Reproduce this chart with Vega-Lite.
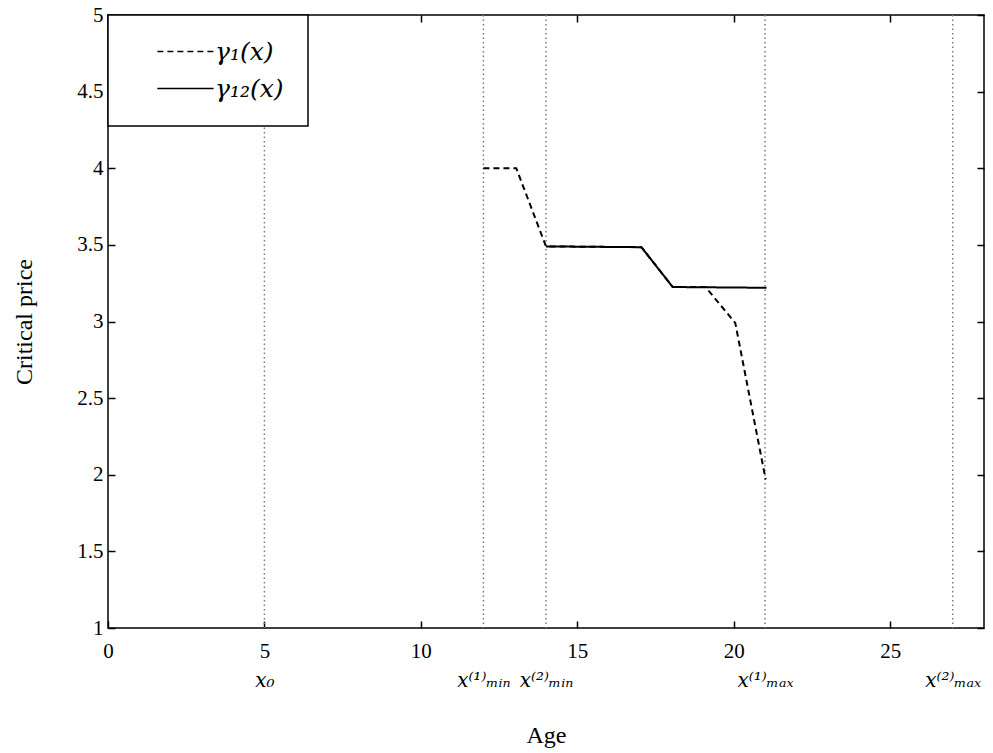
{
  "$schema": "https://vega.github.io/schema/vega-lite/v6.json",
  "width": 876,
  "height": 613,
  "autosize": {"type": "none"},
  "padding": {"left": 108, "top": 15, "right": 9, "bottom": 125},
  "background": "white",
  "config": {
    "view": {"stroke": "black", "strokeWidth": 1.5},
    "font": "Liberation Serif",
    "axis": {
      "domain": false,
      "grid": false,
      "labelFlush": false,
      "tickColor": "black",
      "tickWidth": 1.5,
      "labelColor": "black",
      "titleColor": "black",
      "labelFont": "Liberation Serif",
      "titleFont": "Liberation Serif",
      "labelFontSize": 21,
      "titleFontSize": 24,
      "titleFontWeight": "normal"
    },
    "legend": {
      "labelFont": "DejaVu Serif",
      "labelFontStyle": "italic",
      "labelFontSize": 25,
      "labelColor": "black",
      "strokeColor": "black",
      "strokeWidth": 1.5,
      "fillColor": "white",
      "padding": 24,
      "symbolOffset": 41,
      "rowPadding": 11,
      "labelOffset": 17,
      "labelLimit": 300
    }
  },
  "datasets": {
    "markers": [
      {"age": 5, "marker": "x0"},
      {"age": 12, "marker": "xmin1"},
      {"age": 14, "marker": "xmin2"},
      {"age": 21, "marker": "xmax1"},
      {"age": 27, "marker": "xmax2"}
    ],
    "curves": [
      {"series": "γ₁(x)", "age": 12, "price": 4.0},
      {"series": "γ₁(x)", "age": 13.05, "price": 4.0},
      {"series": "γ₁(x)", "age": 14, "price": 3.49},
      {"series": "γ₁(x)", "age": 17.05, "price": 3.485},
      {"series": "γ₁(x)", "age": 18.05, "price": 3.225},
      {"series": "γ₁(x)", "age": 19.1, "price": 3.225},
      {"series": "γ₁(x)", "age": 20.05, "price": 2.99},
      {"series": "γ₁(x)", "age": 21.02, "price": 1.97},
      {"series": "γ₁₂(x)", "age": 14, "price": 3.49},
      {"series": "γ₁₂(x)", "age": 17.05, "price": 3.485},
      {"series": "γ₁₂(x)", "age": 18.05, "price": 3.225},
      {"series": "γ₁₂(x)", "age": 21.05, "price": 3.22}
    ]
  },
  "layer": [
    {
      "data": {"name": "markers"},
      "mark": {"type": "rule", "color": "#7a7a7a", "strokeDash": [1.5, 3], "strokeWidth": 1.5},
      "encoding": {
        "x": {
          "field": "age",
          "type": "quantitative",
          "scale": {"domain": [0, 28], "nice": false, "zero": false},
          "axis": {
            "orient": "bottom",
            "values": [5, 12, 14, 21, 27],
            "ticks": false,
            "offset": 42,
            "labelPadding": 0,
            "labelFont": "DejaVu Serif",
            "labelFontStyle": "italic",
            "labelFontSize": 20,
            "labelExpr": "datum.value == 5 ? 'x₀' : datum.value == 12 ? 'x⁽¹⁾ₘᵢₙ' : datum.value == 14 ? 'x⁽²⁾ₘᵢₙ' : datum.value == 21 ? 'x⁽¹⁾ₘₐₓ' : 'x⁽²⁾ₘₐₓ'",
            "title": "Age",
            "titlePadding": 33
          }
        }
      }
    },
    {
      "data": {"name": "curves"},
      "transform": [{"filter": "datum.series === 'γ₁(x)'"}],
      "mark": {"type": "line", "color": "black", "strokeWidth": 2},
      "encoding": {
        "x": {
          "field": "age",
          "type": "quantitative",
          "scale": {"domain": [0, 28], "nice": false, "zero": false},
          "axis": {
            "orient": "bottom",
            "values": [0, 5, 10, 15, 20, 25],
            "tickSize": -7,
            "labelPadding": 19,
            "title": null
          }
        },
        "y": {
          "field": "price",
          "type": "quantitative",
          "scale": {"domain": [1, 5], "nice": false, "zero": false},
          "axis": {
            "orient": "left",
            "values": [1, 1.5, 2, 2.5, 3, 3.5, 4, 4.5, 5],
            "format": "~g",
            "tickSize": -7,
            "labelPadding": 12,
            "title": "Critical price",
            "titlePadding": 40
          }
        },
        "strokeDash": {
          "field": "series",
          "type": "nominal",
          "scale": {"domain": ["γ₁(x)", "γ₁₂(x)"], "range": [[6, 4], [1, 0]]},
          "legend": {
            "orient": "none",
            "legendX": 0,
            "legendY": 0,
            "title": null,
            "labelExpr": "datum.label + '\u00a0\u00a0\u00a0'",
            "symbolType": "M-6.25,0H6.25",
            "symbolSize": 81,
            "symbolStrokeWidth": 1.5,
            "symbolStrokeColor": "black"
          }
        }
      }
    },
    {
      "data": {"name": "curves"},
      "transform": [{"filter": "datum.series === 'γ₁₂(x)'"}],
      "mark": {"type": "line", "color": "black", "strokeWidth": 2},
      "encoding": {
        "x": {
          "field": "age",
          "type": "quantitative",
          "scale": {"domain": [0, 28], "nice": false, "zero": false},
          "axis": {
            "orient": "top",
            "values": [0, 5, 10, 15, 20, 25],
            "tickSize": -7,
            "labels": false,
            "title": null
          }
        },
        "y": {
          "field": "price",
          "type": "quantitative",
          "scale": {"domain": [1, 5], "nice": false, "zero": false},
          "axis": {
            "orient": "right",
            "values": [1, 1.5, 2, 2.5, 3, 3.5, 4, 4.5, 5],
            "tickSize": -7,
            "labels": false,
            "title": null
          }
        },
        "strokeDash": {
          "field": "series",
          "type": "nominal",
          "scale": {"domain": ["γ₁(x)", "γ₁₂(x)"], "range": [[6, 4], [1, 0]]}
        }
      }
    }
  ],
  "resolve": {"axis": {"x": "independent", "y": "independent"}}
}
